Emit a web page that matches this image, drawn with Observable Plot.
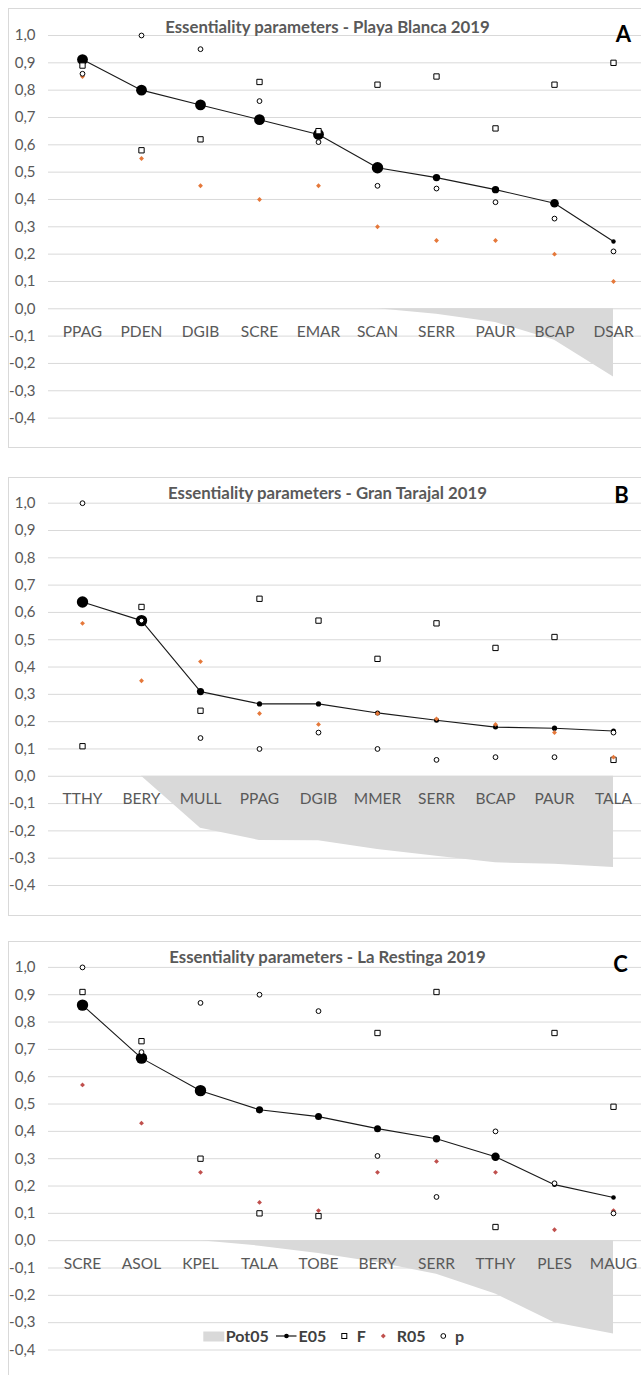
<!DOCTYPE html>
<html><head><meta charset="utf-8">
<script src="https://cdn.jsdelivr.net/npm/d3@7"></script>
<script src="https://cdn.jsdelivr.net/npm/@observablehq/plot@0.6"></script>
<style>
html,body{margin:0;padding:0;background:#fff;overflow:hidden;width:641px;height:1375px;}
.frame{position:absolute;border:1px solid #d9d9d9;box-sizing:border-box;background:#fff;}
.chart{position:absolute;left:0;}
.chart svg{display:block;}
</style></head><body>
<div id="root"></div>
<script>
// ---------- data ----------
const yTicks = [-0.4,-0.3,-0.2,-0.1,0,0.1,0.2,0.3,0.4,0.5,0.6,0.7,0.8,0.9,1.0];
const seriesNames = ["Pot05","E05","F","R05","p"];

// Panel A - Playa Blanca 2019
const catsA  = ["PPAG","PDEN","DGIB","SCRE","EMAR","SCAN","SERR","PAUR","BCAP","DSAR"];
const pot05A = [0,0,0,0,0,0,-0.02,-0.05,-0.115,-0.25];
const e05A   = [0.912,0.80,0.746,0.692,0.638,0.516,0.48,0.436,0.386,0.246];
const fA     = [0.89,0.58,0.62,0.83,0.65,0.82,0.85,0.66,0.82,0.90];
const r05A   = [0.85,0.55,0.45,0.40,0.45,0.30,0.25,0.25,0.20,0.10];
const pA     = [0.86,1.00,0.95,0.76,0.61,0.45,0.44,0.39,0.33,0.21];
const e05SizeA = [5.4,5.4,5.4,5.4,5.4,5.7,3.7,3.7,4.3,2.2];

// Panel B - Gran Tarajal 2019
const catsB  = ["TTHY","BERY","MULL","PPAG","DGIB","MMER","SERR","BCAP","PAUR","TALA"];
const pot05B = [0,0,-0.19,-0.235,-0.236,-0.268,-0.293,-0.317,-0.322,-0.334];
const e05B   = [0.638,0.57,0.31,0.265,0.265,0.232,0.205,0.18,0.176,0.166];
const fB     = [0.11,0.62,0.24,0.65,0.57,0.43,0.56,0.47,0.51,0.06];
const r05B   = [0.56,0.35,0.42,0.23,0.19,0.23,0.21,0.19,0.16,0.07];
const pB     = [1.00,0.57,0.14,0.10,0.16,0.10,0.06,0.07,0.07,0.16];
const e05SizeB = [5.7,5.7,3.6,2.6,2.6,2.5,2.5,2.5,2.6,2.5];

// Panel C - La Restinga 2019
const catsC  = ["SCRE","ASOL","KPEL","TALA","TOBE","BERY","SERR","TTHY","PLES","MAUG"];
const pot05C = [0,0,0,-0.02,-0.047,-0.08,-0.123,-0.195,-0.30,-0.341];
const e05C   = [0.862,0.668,0.549,0.479,0.454,0.41,0.373,0.307,0.205,0.158];
const fC     = [0.91,0.73,0.30,0.10,0.09,0.76,0.91,0.05,0.76,0.49];
const r05C   = [0.57,0.43,0.25,0.14,0.11,0.25,0.29,0.25,0.04,0.11];
const pC     = [1.00,0.69,0.87,0.90,0.84,0.31,0.16,0.40,0.21,0.10];
const e05SizeC = [5.7,5.7,5.7,3.6,3.5,3.5,3.7,4.2,2.4,2.3];

// ---------- layout / style ----------
const FONT = "Lato, 'Open Sans', sans-serif";
const GRID = "#d9d9d9";
const TXT = "#595959";
const panels = [
  {title:"Essentiality parameters - Playa Blanca 2019", letter:"A", top:8, height:440, yTop:27, yBottom:409.6,
   titleY:24.5, letterY:34, letterX:623.5, r05Color:"#E5783A",
   cats:catsA, pot:pot05A, e05:e05A, f:fA, r05:r05A, p:pA, size:e05SizeA},
  {title:"Essentiality parameters - Gran Tarajal 2019", letter:"B", top:477, height:439, yTop:25.7, yBottom:408,
   titleY:21.5, letterY:26.3, letterX:621.5, r05Color:"#E5783A",
   cats:catsB, pot:pot05B, e05:e05B, f:fB, r05:r05B, p:pB, size:e05SizeB},
  {title:"Essentiality parameters - La Restinga 2019", letter:"C", top:941, height:440, yTop:25.9, yBottom:408.5,
   titleY:21.5, letterY:30.7, letterX:620.5, r05Color:"#C0504D",
   cats:catsC, pot:pot05C, e05:e05C, f:fC, r05:r05C, p:pC, size:e05SizeC}
];
const fmt = d => d.toFixed(1).replace(".", ",");

const root = document.getElementById("root");
for (const P of panels) {
  const frame = document.createElement("div");
  frame.className = "frame";
  Object.assign(frame.style, {left:"8px", top:P.top+"px", width:"639px", height:P.height+"px"});
  root.appendChild(frame);

  const data = P.cats.map((c,i)=>({cat:c, pot:P.pot[i], e05:P.e05[i], f:P.f[i], r05:P.r05[i], p:P.p[i], size:P.size[i]}));
  const svg = Plot.plot({
    width: 641, height: Math.min(P.height, 1375 - P.top),
    marginLeft: 48, marginRight: 0, marginTop: P.yTop, marginBottom: 20,
    style: {background: "transparent", overflow: "visible", fontFamily: FONT},
    x: {type: "point", domain: P.cats, range: [78, 617], padding: 0, axis: null},
    y: {domain: [-0.4, 1.0], range: [P.yBottom, P.yTop], axis: null},
    r: {type: "linear", domain: [0, 10], range: [0, 10]},
    marks: [
      Plot.gridY(yTicks, {stroke: GRID, strokeOpacity: 1, strokeWidth: 1}),
      Plot.areaY(data, {x: "cat", y: "pot", fill: GRID, fillOpacity: 1}),
      Plot.axisY(yTicks, {anchor: "left", tickSize: 0, tickPadding: 13, tickFormat: fmt, fontSize: 15, fill: TXT, label: null}),
      Plot.text(data, {x: "cat", y: 0, dy: 23, text: "cat", fontSize: 15.5, fill: TXT}),
      Plot.lineY(data, {x: "cat", y: "e05", stroke: "#1a1a1a", strokeWidth: 1.1}),
      Plot.dot(data, {x: "cat", y: "e05", r: "size", fill: "#000"}),
      Plot.dot(data, {x: "cat", y: "f", symbol: "square", r: 3.0, fill: "white", stroke: "#000", strokeWidth: 1}),
      Plot.dot(data, {x: "cat", y: "r05", symbol: "diamond2", r: 2.2, fill: P.r05Color}),
      Plot.dot(data, {x: "cat", y: "p", symbol: "circle", r: 2.4, fill: "white", stroke: "#000", strokeWidth: 1})
    ]
  });
  const s = d3.select(svg);
  s.append("text").attr("x", 327.5).attr("y", P.titleY).attr("text-anchor", "middle")
    .attr("font-family", FONT).attr("font-weight", "bold").attr("font-size", 16.8).attr("fill", TXT).text(P.title);
  s.append("text").attr("x", P.letterX).attr("y", P.letterY).attr("text-anchor", "middle")
    .attr("font-family", FONT).attr("font-weight", "bold").attr("font-size", 22).attr("fill", "#000").text(P.letter);
  const wrap = document.createElement("div");
  wrap.className = "chart";
  wrap.style.top = P.top + "px";
  wrap.appendChild(svg);
  root.appendChild(wrap);
}

// ---------- legend (bottom of panel C) ----------
const lg = d3.select(root).append("div").attr("class", "chart").style("top", "1315px")
  .append("svg").attr("width", 641).attr("height", 40).style("display", "block");
const ly = 21; // symbol centre
const lbase = 26.8;
const ltxt = (x, t) => lg.append("text").attr("x", x).attr("y", lbase).attr("font-family", FONT)
  .attr("font-weight", "bold").attr("font-size", 16).attr("fill", "#404040").text(t);
lg.append("rect").attr("x", 203.3).attr("y", 16.5).attr("width", 21).attr("height", 10).attr("fill", GRID);
ltxt(225.7, seriesNames[0]);
lg.append("line").attr("x1", 276).attr("x2", 296.5).attr("y1", ly).attr("y2", ly).attr("stroke", "#000").attr("stroke-width", 1.1);
lg.append("circle").attr("cx", 286.5).attr("cy", ly).attr("r", 2.3).attr("fill", "#000");
ltxt(298.5, seriesNames[1]);
lg.append("rect").attr("x", 341.8).attr("y", ly - 2.5).attr("width", 5).attr("height", 5).attr("fill", "#fff").attr("stroke", "#000");
ltxt(356.7, seriesNames[2]);
lg.append("path").attr("d", d3.symbol(d3.symbolDiamond2, Math.PI * 2.2 * 2.2)()).attr("transform", `translate(383.3,${ly})`).attr("fill", "#C0504D");
ltxt(396.7, seriesNames[3]);
lg.append("circle").attr("cx", 443.3).attr("cy", ly).attr("r", 2.4).attr("fill", "#fff").attr("stroke", "#000");
ltxt(455, seriesNames[4]);
</script>
</body></html>
